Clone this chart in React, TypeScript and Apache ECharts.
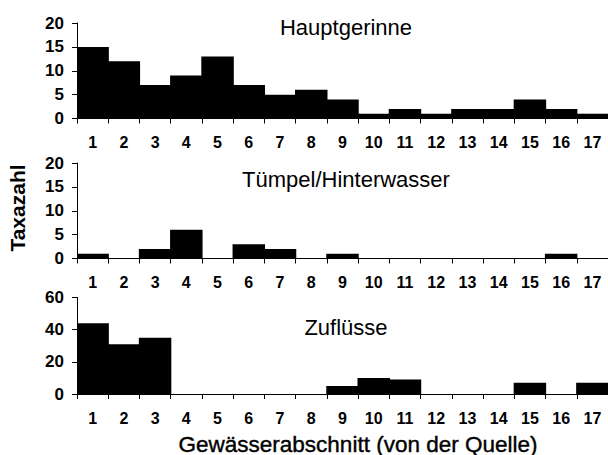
import React, { useEffect, useRef } from "react";
import * as echarts from "echarts";

const categories = ["1","2","3","4","5","6","7","8","9","10","11","12","13","14","15","16","17"];
const hauptgerinne = [15, 12, 7, 9, 13, 7, 5, 6, 4, 1, 2, 1, 2, 2, 4, 2, 1];
const tuempel = [1, 0, 2, 6, 0, 3, 2, 0, 1, 0, 0, 0, 0, 0, 0, 1, 0];
const zufluesse = [44, 31, 35, 0, 0, 0, 0, 0, 5, 10, 9, 0, 0, 0, 7, 0, 7];
const panelTitles = ["Hauptgerinne", "Tümpel/Hinterwasser", "Zuflüsse"];
const yMax = [20, 20, 60];
const yInterval = [5, 5, 20];
const yAxisTitle = "Taxazahl";
const xAxisTitle = "Gewässerabschnitt (von der Quelle)";

const FONT = "'Liberation Sans', Arial, sans-serif";

export default function App() {
  const ref = useRef<HTMLDivElement>(null);
  useEffect(() => {
    if (!ref.current) return;
    const chart = echarts.init(ref.current, null, { renderer: "svg" });
    const grids = [
      { left: 77, top: 23, width: 536, height: 95.5 },
      { left: 77, top: 163, width: 536, height: 95.5 },
      { left: 77, top: 297.5, width: 536, height: 96.5 },
    ];
    const seriesData = [hauptgerinne, tuempel, zufluesse];
    const titleY = [27, 179, 327];
    const option: any = {
      animation: false,
      grid: grids,
      xAxis: grids.map((_, i) => ({
        type: "category",
        gridIndex: i,
        data: categories,
        boundaryGap: true,
        axisLine: { show: true, lineStyle: { color: "#000", width: 1 } },
        axisTick: { show: true, length: 5, lineStyle: { color: "#000" }, alignWithLabel: false },
        axisLabel: {
          interval: 0,
          margin: 16,
          color: "#000",
          fontFamily: FONT,
          fontWeight: "bold",
          fontSize: 16,
        },
        splitLine: { show: false },
      })),
      yAxis: grids.map((_, i) => ({
        type: "value",
        gridIndex: i,
        min: 0,
        max: yMax[i],
        interval: yInterval[i],
        axisLine: { show: true, lineStyle: { color: "#000", width: 1 } },
        axisTick: { show: true, length: 5, lineStyle: { color: "#000" } },
        axisLabel: {
          margin: 13,
          color: "#000",
          fontFamily: FONT,
          fontWeight: "bold",
          fontSize: 17,
        },
        splitLine: { show: false },
      })),
      series: seriesData.map((d, i) => ({
        type: "bar",
        xAxisIndex: i,
        yAxisIndex: i,
        data: d,
        barWidth: "104%",
        itemStyle: { color: "#000", borderWidth: 0 },
      })),
      graphic: [
        ...panelTitles.map((t, i) => ({
          type: "text",
          x: 346,
          y: titleY[i],
          style: {
            text: t,
            fontFamily: FONT,
            fontSize: 22,
            fill: "#000",
            textAlign: "center",
            textVerticalAlign: "middle",
          },
        })),
        {
          type: "text",
          x: 17,
          y: 208,
          rotation: Math.PI / 2,
          style: {
            text: yAxisTitle,
            fontFamily: FONT,
            fontSize: 21,
            fontWeight: "bold",
            fill: "#000",
            textAlign: "center",
            textVerticalAlign: "middle",
          },
        },
        {
          type: "text",
          x: 358,
          y: 444,
          style: {
            text: xAxisTitle,
            fontFamily: FONT,
            fontSize: 22.5,
            fill: "#000",
            stroke: "#000",
            lineWidth: 0.4,
            textAlign: "center",
            textVerticalAlign: "middle",
          },
        },
      ],
    };
    chart.setOption(option);
    return () => chart.dispose();
  }, []);
  return <div ref={ref} style={{ width: 608, height: 455, position: "absolute", left: 0, top: 0 }} />;
}
